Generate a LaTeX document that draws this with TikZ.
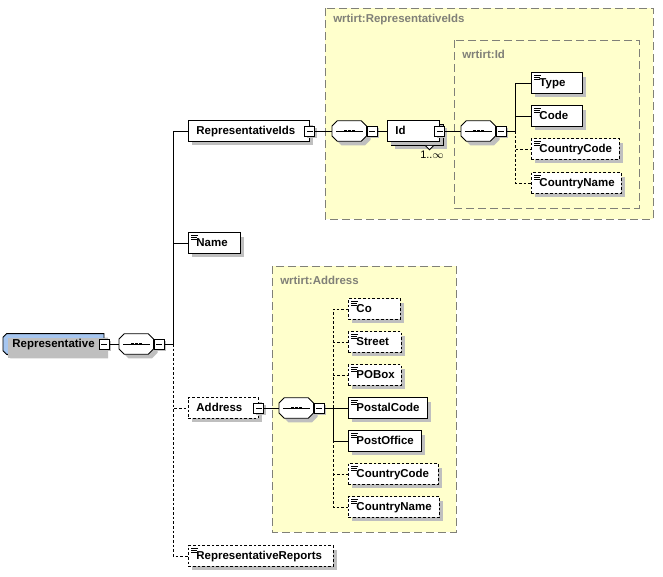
\documentclass[tikz,border=0pt]{standalone}
\usepackage{fontspec}
\setmainfont{Liberation Sans}
\usetikzlibrary{shadows}

\definecolor{frameyellow}{RGB}{255,255,204}
\definecolor{rootblue}{RGB}{166,198,240}
\definecolor{framegray}{RGB}{128,128,120}

\newcommand{\seqShape}[1]{
  \filldraw[seqline] ([xshift=4pt]#1.north west) -- ([xshift=-4pt]#1.north east) -- ([yshift=-4pt]#1.north east)
    -- ([yshift=4pt]#1.south east) -- ([xshift=-4pt]#1.south east) -- ([xshift=4pt]#1.south west)
    -- ([yshift=4pt]#1.south west) -- ([yshift=-4pt]#1.north west) -- cycle;
  \draw[line width=0.7pt] ([xshift=3pt]#1.west) -- ([xshift=-3pt]#1.east);
  \foreach \d in {-3,0,3}
    \fill ([xshift=\d pt]#1.center) +(-1.05pt,-1.05pt) rectangle +(1.05pt,1.05pt);
}

\begin{document}
\begin{tikzpicture}[x=0.75pt, y=-0.75pt,
  every node/.append style={font=\fontsize{8.6}{10}\selectfont\bfseries},
  boxw/.code={\pgfmathsetmacro\bw{(#1-16)*0.75}\tikzset{text width=\bw pt}},
  shadowsty/.style={drop shadow={shadow xshift=3pt, shadow yshift=-3pt, fill=black!25, opacity=1}},
  cplxsty/.style={draw, fill=white, anchor=west, shadowsty, align=left, minimum height=15.5pt, inner xsep=6pt, inner ysep=0pt, text height=6.3pt, text depth=1.8pt, line width=0.7pt},
  elemsty/.style={cplxsty, path picture={\foreach \k/\l in {1.6/4.8,3.1/4.2,4.6/4.2}{\draw[solid, line width=0.45pt] ([xshift=2.2pt, yshift=-\k pt]path picture bounding box.north west) -- ++(\l pt,0pt);}}},
  optsty/.style={elemsty, dash pattern=on 2pt off 1.5pt},
  optcplxsty/.style={cplxsty, dash pattern=on 2pt off 1.5pt},
  rootsty/.style={cplxsty, draw=none, fill=none, drop shadow={opacity=0}},
  rootline/.style={fill=rootblue, line width=0.7pt, shadowsty},
  seqsty/.style={anchor=west, minimum width=25.5pt, minimum height=15pt, inner sep=0pt},
  seqline/.style={fill=white, line width=0.7pt, shadowsty},
  minussty/.style={draw, fill=white, minimum size=7.5pt, inner sep=0pt, line width=0.7pt, drop shadow={shadow xshift=1.5pt, shadow yshift=-1.5pt, fill=black!25, opacity=1},
    path picture={\draw[line width=0.7pt] ([xshift=1.5pt]path picture bounding box.west) -- ([xshift=-1.5pt]path picture bounding box.east);}},
  framesty/.style={draw=framegray, fill=frameyellow, line width=0.75pt, dash pattern=on 6pt off 3pt},
  labelsty/.style={anchor=west, text=framegray, inner sep=0pt},
  linksty/.style={line width=0.7pt},
  optlinksty/.style={line width=0.7pt, dash pattern=on 2pt off 1.5pt}]

\path[use as bounding box, fill=white] (0,0) rectangle (663,576);

% frames
\draw[framesty] (325,8) rectangle (653,219);
\node[labelsty] (IdsLabel) at (333,20) {wrtirt:RepresentativeIds};
\draw[framesty] (454,40) rectangle (639,208);
\node[labelsty] (IdLabel) at (462,54) {wrtirt:Id};
\draw[framesty] (272,266) rectangle (456,532);
\node[labelsty] (AddrLabel) at (280,280) {wrtirt:Address};

% root
\filldraw[rootline] (6.5,333.7) -- (104,333.7) -- (104,354.3) -- (6.5,354.3) -- (3,350.8) -- (3,337.2) -- cycle;
\node[rootsty, boxw=99] (Rep) at (4,344) {Representative};
\node[minussty] (RepM) at (104,344) {};
\node[seqsty] (SeqRep) at (119,344) {};
\seqShape{SeqRep}
\node[minussty, anchor=west] (SeqRepM) at (SeqRep.east) {};
\coordinate (RepJ) at (173,344);

\node[cplxsty, boxw=121] (RepIds) at (188,131) {RepresentativeIds};
\node[minussty] (RepIdsM) at (RepIds.east) {};
\node[elemsty, boxw=52] (Name) at (188,243) {Name};
\node[optcplxsty, boxw=70] (Address) at (188,408) {Address};
\node[minussty] (AddressM) at (Address.east) {};
\node[optsty, boxw=145] (RepReports) at (188,556) {RepresentativeReports};

% RepresentativeIds
\node[seqsty] (SeqIds) at (332,131) {};
\seqShape{SeqIds}
\node[minussty, anchor=west] (SeqIdsM) at (SeqIds.east) {};
\node[cplxsty, boxw=52] (IdBack) at (391,135) {};
\draw[linksty, fill=white] ([xshift=6pt]IdBack.south) -- ++(4,4) -- ++(4,-4);
\node[cplxsty, boxw=52] (Id) at (387,131) {Id};
\node[minussty] (IdM) at (Id.east) {};
\node[font=\fontsize{8.2}{9}\selectfont] (IdMult) at (432,155) {1..$\infty$};
\node[seqsty] (SeqId) at (461,131) {};
\seqShape{SeqId}
\node[minussty, anchor=west] (SeqIdM) at (SeqId.east) {};
\coordinate (IdJ) at (515,131);

\node[elemsty, boxw=51] (Type) at (531,83) {Type};
\node[elemsty, boxw=51] (Code) at (531,116) {Code};
\node[optsty, boxw=88] (IdCountryCode) at (531,149) {CountryCode};
\node[optsty, boxw=90] (IdCountryName) at (531,183) {CountryName};

% Address
\node[seqsty] (SeqAddr) at (279,408) {};
\seqShape{SeqAddr}
\node[minussty, anchor=west] (SeqAddrM) at (SeqAddr.east) {};
\coordinate (AddrJ) at (333,408);

\node[optsty, boxw=52] (Co) at (348,309) {Co};
\node[optsty, boxw=53] (Street) at (348,342) {Street};
\node[optsty, boxw=53] (POBox) at (348,375) {POBox};
\node[elemsty, boxw=79] (PostalCode) at (348,408) {PostalCode};
\node[elemsty, boxw=73] (PostOffice) at (348,441) {PostOffice};
\node[optsty, boxw=90] (AddrCountryCode) at (348,474) {CountryCode};
\node[optsty, boxw=91] (AddrCountryName) at (348,507) {CountryName};

% links
\draw[linksty] (RepM.east) -- (SeqRep.west);
\draw[linksty] (SeqRepM.east) -- (RepJ);
\draw[linksty] (RepJ) |- (RepIds.west);
\draw[linksty] (RepJ) |- (Name.west);
\draw[optlinksty] (RepJ) |- (Address.west);
\draw[optlinksty] (RepJ) |- (RepReports.west);

\draw[linksty] (RepIdsM.east) -- (SeqIds.west);
\draw[linksty] (SeqIdsM.east) -- (Id.west);
\draw[linksty] (IdM.east) -- (SeqId.west);
\draw[linksty] (SeqIdM.east) -- (IdJ);
\draw[linksty] (IdJ) |- (Type.west);
\draw[linksty] (IdJ) |- (Code.west);
\draw[optlinksty] (IdJ) |- (IdCountryCode.west);
\draw[optlinksty] (IdJ) |- (IdCountryName.west);

\draw[linksty] (AddressM.east) -- (SeqAddr.west);
\draw[linksty] (SeqAddrM.east) -- (AddrJ);
\draw[optlinksty] (AddrJ) |- (Co.west);
\draw[optlinksty] (AddrJ) |- (Street.west);
\draw[optlinksty] (AddrJ) |- (POBox.west);
\draw[linksty] (AddrJ) -- (PostalCode.west);
\draw[optlinksty] (AddrJ) |- (AddrCountryCode.west);
\draw[optlinksty] (AddrJ) |- (AddrCountryName.west);
\draw[linksty] (AddrJ) |- (PostOffice.west);

\end{tikzpicture}
\end{document}
